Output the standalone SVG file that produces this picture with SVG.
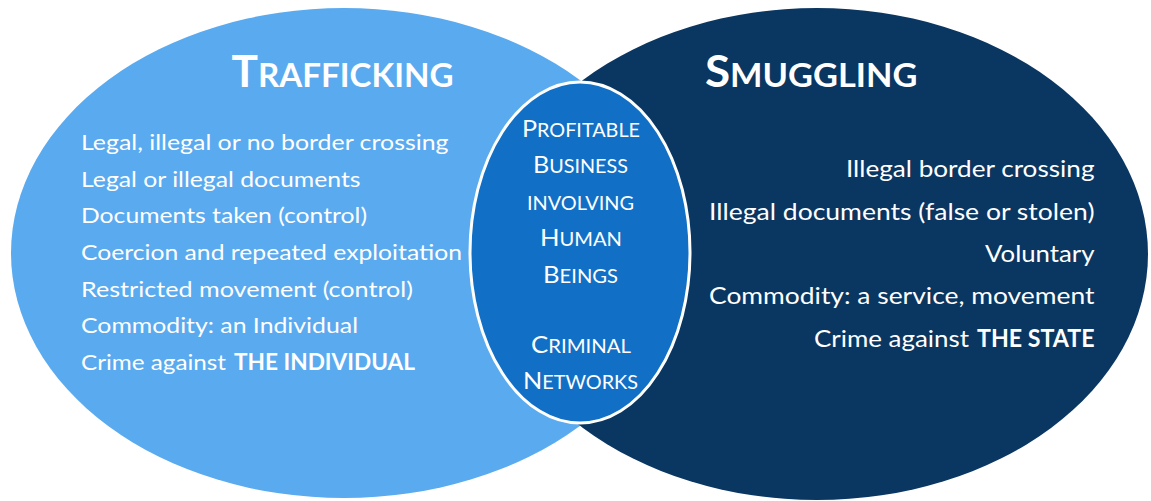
<svg xmlns="http://www.w3.org/2000/svg" width="1151" height="501" viewBox="0 0 1151 501">
<style>
text{font-family:Lato,"Open Sans","Liberation Sans",sans-serif;fill:#fff}
.b{font-weight:700}
.l{font-size:22px}
.r{font-size:24px}
.t{font-weight:700}
.m{font-size:23.5px}
.ms{font-size:18.5px}
</style>
<rect width="1151" height="501" fill="#fff"/>
<g id="trafficking">
<ellipse cx="344" cy="253" rx="333" ry="245" fill="#5AAAF0"/>
</g>
<g id="smuggling">
<ellipse cx="817" cy="254" rx="331" ry="246" fill="#0A3662"/>
</g>
<g id="overlap">
<ellipse cx="580" cy="252.5" rx="110" ry="170.5" fill="#1170C6" stroke="#fff" stroke-width="3"/>
</g>
<g id="connectors"></g>
<g id="trafficking-text">
<text class="t" x="231.5" y="87" textLength="222" lengthAdjust="spacingAndGlyphs"><tspan font-size="44">T</tspan><tspan font-size="33">RAFFICKING</tspan></text>
<text class="l" x="81" y="150" textLength="367.5" lengthAdjust="spacingAndGlyphs">Legal, illegal or no border crossing</text>
<text class="l" x="81" y="186.5" textLength="279.5" lengthAdjust="spacingAndGlyphs">Legal or illegal documents</text>
<text class="l" x="81" y="223" textLength="286" lengthAdjust="spacingAndGlyphs">Documents taken (control)</text>
<text class="l" x="81" y="259.5" textLength="381" lengthAdjust="spacingAndGlyphs">Coercion and repeated exploitation</text>
<text class="l" x="81" y="296.5" textLength="332" lengthAdjust="spacingAndGlyphs">Restricted movement (control)</text>
<text class="l" x="81" y="333" textLength="277" lengthAdjust="spacingAndGlyphs">Commodity: an Individual</text>
<text class="l" y="370"><tspan x="81" textLength="145" lengthAdjust="spacingAndGlyphs">Crime against</tspan> <tspan class="b" x="234" textLength="181" lengthAdjust="spacingAndGlyphs">THE INDIVIDUAL</tspan></text>
</g>
<g id="smuggling-text">
<text class="t" x="705" y="87" textLength="212.5" lengthAdjust="spacingAndGlyphs"><tspan font-size="44">S</tspan><tspan font-size="33">MUGGLING</tspan></text>
<text class="r" x="846" y="177" textLength="248.5" lengthAdjust="spacingAndGlyphs">Illegal border crossing</text>
<text class="r" x="709" y="219.5" textLength="385.5" lengthAdjust="spacingAndGlyphs">Illegal documents (false or stolen)</text>
<text class="r" x="985" y="262" textLength="109.5" lengthAdjust="spacingAndGlyphs">Voluntary</text>
<text class="r" x="709" y="304" textLength="385.5" lengthAdjust="spacingAndGlyphs">Commodity: a service, movement</text>
<text class="r" y="346.5"><tspan x="814" textLength="155" lengthAdjust="spacingAndGlyphs">Crime against</tspan> <tspan class="b" x="977" textLength="117.5" lengthAdjust="spacingAndGlyphs">THE STATE</tspan></text>
</g>
<g id="overlap-text">
<text x="522" y="136.5" textLength="118" lengthAdjust="spacingAndGlyphs"><tspan class="m">P</tspan><tspan class="ms">ROFITABLE</tspan></text>
<text x="533" y="173" textLength="95" lengthAdjust="spacingAndGlyphs"><tspan class="m">B</tspan><tspan class="ms">USINESS</tspan></text>
<text class="ms" x="527" y="209.5" textLength="107" lengthAdjust="spacingAndGlyphs">INVOLVING</text>
<text x="540" y="246" textLength="82" lengthAdjust="spacingAndGlyphs"><tspan class="m">H</tspan><tspan class="ms">UMAN</tspan></text>
<text x="543" y="282.5" textLength="75" lengthAdjust="spacingAndGlyphs"><tspan class="m">B</tspan><tspan class="ms">EINGS</tspan></text>
<text x="531" y="353" textLength="100" lengthAdjust="spacingAndGlyphs"><tspan class="m">C</tspan><tspan class="ms">RIMINAL</tspan></text>
<text x="523" y="389" textLength="115" lengthAdjust="spacingAndGlyphs"><tspan class="m">N</tspan><tspan class="ms">ETWORKS</tspan></text>
</g>
</svg>
